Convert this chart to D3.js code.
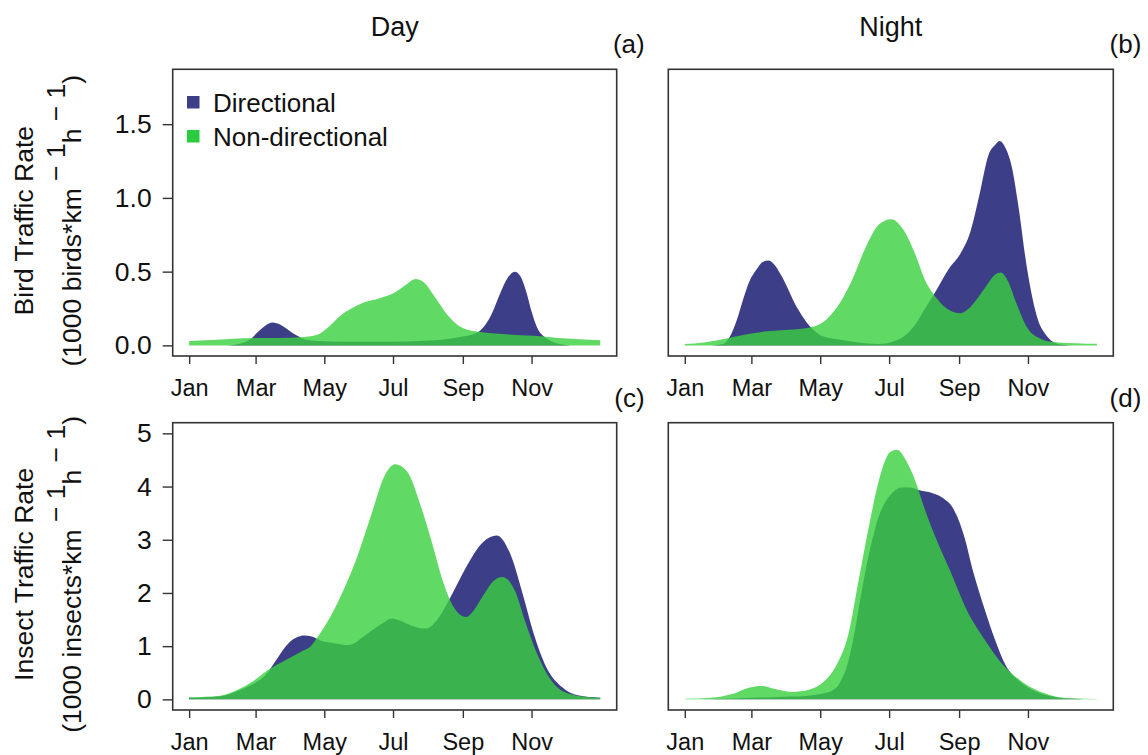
<!DOCTYPE html>
<html>
<head>
<meta charset="utf-8">
<script src="https://cdn.jsdelivr.net/npm/d3@7"></script>
<style>
  body { margin: 0; background: #fff; }
  text { font-family: "Liberation Sans", Arial, sans-serif; fill: #111; }
</style>
</head>
<body>
<div id="chart"></div>
<script>
// month ticks (day of year)
var months = ["Jan", "Mar", "May", "Jul", "Sep", "Nov"];
var monthDays = [1, 60, 121, 182, 244, 305];

var birdTicks = [0, 0.5, 1, 1.5];
var birdTickLabels = ["0.0", "0.5", "1.0", "1.5"];
var insectTicks = [0, 1, 2, 3, 4, 5];
var insectTickLabels = ["0", "1", "2", "3", "4", "5"];

var seriesNames = ["Directional", "Non-directional"];

// (a) birds, day
var birdDayDirDays = [1, 35, 45, 55, 62, 68, 75, 82, 90, 97, 104, 115, 140, 180, 220, 240, 255, 263, 270, 277, 284, 290, 295, 300, 305, 310, 316, 322, 330, 340, 366];
var birdDayDirRate = [0, 0, 0.01, 0.04, 0.09, 0.13, 0.155, 0.14, 0.10, 0.065, 0.04, 0.03, 0.025, 0.025, 0.035, 0.055, 0.08, 0.13, 0.22, 0.35, 0.46, 0.50, 0.47, 0.37, 0.23, 0.12, 0.06, 0.03, 0.01, 0, 0];
var birdDayNonDays = [1, 30, 57, 80, 100, 114, 124, 135, 145, 156, 170, 184, 195, 202, 209, 219, 230, 241, 255, 279, 307, 329, 366];
var birdDayNonRate = [0.03, 0.04, 0.05, 0.05, 0.055, 0.07, 0.12, 0.2, 0.25, 0.29, 0.32, 0.36, 0.42, 0.45, 0.43, 0.33, 0.21, 0.13, 0.095, 0.077, 0.065, 0.05, 0.035];

// (b) birds, night
var birdNightDirDays = [1, 25, 35, 41, 47, 53, 58, 65, 70, 75, 80, 86, 92, 98, 105, 113, 124, 142, 160, 173, 185, 195, 205, 213, 222, 235, 245, 254, 262, 270, 276, 280, 285, 291, 297, 304, 309, 314, 320, 326, 335, 345, 366];
var birdNightDirRate = [0, 0, 0.01, 0.06, 0.17, 0.32, 0.43, 0.52, 0.565, 0.575, 0.55, 0.48, 0.39, 0.29, 0.2, 0.12, 0.06, 0.035, 0.015, 0.01, 0.025, 0.06, 0.14, 0.24, 0.35, 0.52, 0.62, 0.77, 1.02, 1.29, 1.36, 1.386, 1.34, 1.2, 0.92, 0.53, 0.32, 0.17, 0.08, 0.03, 0.005, 0, 0];
var birdNightNonDays = [1, 18, 37, 55, 74, 93, 111, 124, 136, 149, 161, 173, 184, 195, 205, 214, 223, 236, 245, 254, 267, 276, 281, 287, 295, 304, 316, 329, 366];
var birdNightNonRate = [0.01, 0.02, 0.045, 0.074, 0.095, 0.106, 0.12, 0.16, 0.26, 0.44, 0.66, 0.82, 0.856, 0.78, 0.62, 0.44, 0.33, 0.236, 0.218, 0.26, 0.39, 0.48, 0.495, 0.44, 0.28, 0.124, 0.045, 0.022, 0.011];

// (c) insects, day
var insectDayDirDays = [1, 29, 43, 57, 66, 71, 78, 89, 97, 103, 110, 117, 131, 142, 159, 172, 181, 188, 198, 211, 223, 233, 247, 262, 274, 286, 297, 307, 318, 332, 346, 366];
var insectDayDirRate = [0.03, 0.06, 0.15, 0.28, 0.4, 0.51, 0.73, 1.05, 1.17, 1.2, 1.18, 1.11, 1.05, 1.02, 1.23, 1.42, 1.52, 1.48, 1.39, 1.33, 1.55, 1.92, 2.49, 2.96, 3.08, 2.74, 1.99, 1.23, 0.61, 0.23, 0.075, 0.03];
var insectDayNonDays = [1, 29, 43, 57, 71, 86, 100, 110, 114, 121, 131, 140, 149, 163, 174, 184, 195, 205, 216, 226, 233, 240, 247, 254, 262, 271, 279, 284, 290, 300, 311, 325, 339, 352, 366];
var insectDayNonRate = [0.04, 0.07, 0.17, 0.33, 0.55, 0.73, 0.89, 1.02, 1.14, 1.36, 1.74, 2.15, 2.61, 3.49, 4.18, 4.42, 4.27, 3.74, 2.99, 2.24, 1.85, 1.62, 1.55, 1.68, 1.95, 2.22, 2.30, 2.25, 2.05, 1.42, 0.8, 0.29, 0.1, 0.05, 0.03];

// (d) insects, night
var insectNightDirDays = [1, 30, 60, 90, 110, 125, 130, 138, 145, 150, 155, 160, 166, 173, 180, 186, 193, 200, 209, 220, 230, 239, 244, 248, 257, 267, 276, 285, 298, 313, 329, 344, 366];
var insectNightDirRate = [0, 0.005, 0.03, 0.05, 0.07, 0.12, 0.15, 0.3, 0.65, 1.1, 1.7, 2.3, 2.9, 3.45, 3.75, 3.9, 3.98, 3.98, 3.93, 3.88, 3.78, 3.58, 3.35, 3.1, 2.36, 1.67, 1.11, 0.65, 0.33, 0.14, 0.045, 0.013, 0];
var insectNightNonDays = [1, 24, 43, 58, 69, 80, 96, 111, 124, 136, 146, 155, 164, 173, 183, 189, 197, 205, 214, 223, 236, 251, 267, 282, 298, 313, 329, 344, 366];
var insectNightNonRate = [0.01, 0.03, 0.1, 0.22, 0.25, 0.2, 0.14, 0.18, 0.33, 0.67, 1.23, 2.24, 3.24, 4.12, 4.65, 4.69, 4.49, 4.12, 3.55, 3.05, 2.42, 1.67, 1.11, 0.67, 0.36, 0.17, 0.056, 0.02, 0.005];

var navy = "#3c3f87", green = "#3ad03e", greenAlpha = 0.8, legendGreen = "#2bcb3f";

function zip(days, vals) {
  return days.map(function(d, i) { return {day: d, v: vals[i]}; });
}

var W = 1148, H = 755;
var svg = d3.select("#chart").append("svg")
  .attr("width", W).attr("height", H);

var colL = [172.7, 616.7], colR = [668.3, 1113.3];
var rowT = [69.3, 356], rowB = [422.7, 710];

var panels = [
  {xr: colL, yr: rowT, ymax: 1.8, ticks: birdTicks, tl: birdTickLabels, yaxis: true, tag: "(a)",
   dir: zip(birdDayDirDays, birdDayDirRate), non: zip(birdDayNonDays, birdDayNonRate)},
  {xr: colR, yr: rowT, ymax: 1.8, ticks: birdTicks, tl: birdTickLabels, yaxis: false, tag: "(b)",
   dir: zip(birdNightDirDays, birdNightDirRate), non: zip(birdNightNonDays, birdNightNonRate)},
  {xr: colL, yr: rowB, ymax: 5, ticks: insectTicks, tl: insectTickLabels, yaxis: true, tag: "(c)",
   dir: zip(insectDayDirDays, insectDayDirRate), non: zip(insectDayNonDays, insectDayNonRate)},
  {xr: colR, yr: rowB, ymax: 5, ticks: insectTicks, tl: insectTickLabels, yaxis: false, tag: "(d)",
   dir: zip(insectNightDirDays, insectNightDirRate), non: zip(insectNightNonDays, insectNightNonRate)}
];

panels.forEach(function(p) {
  // R style 4% padding around data range
  var x = d3.scaleLinear().domain([1 - 365 * 0.04, 366 + 365 * 0.04]).range(p.xr);
  var y = d3.scaleLinear().domain([-0.04 * p.ymax, 1.04 * p.ymax]).range([p.yr[1], p.yr[0]]);

  var area = d3.area()
    .curve(d3.curveMonotoneX)
    .x(function(d) { return x(d.day); })
    .y0(y(0))
    .y1(function(d) { return y(d.v); });

  svg.append("path").datum(p.dir).attr("d", area).attr("fill", navy);
  svg.append("path").datum(p.non).attr("d", area).attr("fill", green).attr("fill-opacity", greenAlpha);

  svg.append("rect")
    .attr("x", p.xr[0]).attr("y", p.yr[0])
    .attr("width", p.xr[1] - p.xr[0]).attr("height", p.yr[1] - p.yr[0])
    .attr("fill", "none").attr("stroke", "#333").attr("stroke-width", 1.6);

  var xa = svg.append("g")
    .attr("transform", "translate(0," + p.yr[1] + ")")
    .call(d3.axisBottom(x).tickValues(monthDays)
      .tickFormat(function(d, i) { return months[i]; })
      .tickSize(8).tickPadding(15.5));
  xa.select(".domain").remove();
  xa.selectAll("line").attr("stroke", "#333").attr("stroke-width", 1.4);
  xa.selectAll("text").attr("font-size", 23.5).attr("font-family", null).attr("fill", "#111");

  if (p.yaxis) {
    var ya = svg.append("g")
      .attr("transform", "translate(" + p.xr[0] + ",0)")
      .call(d3.axisLeft(y).tickValues(p.ticks)
        .tickFormat(function(d, i) { return p.tl[i]; })
        .tickSize(10).tickPadding(11));
    ya.select(".domain").remove();
    ya.selectAll("line").attr("stroke", "#333").attr("stroke-width", 1.4);
    ya.selectAll("text").attr("font-size", 26.5).attr("font-family", null).attr("fill", "#111");
  }

  svg.append("text")
    .attr("x", p.xr[1] + 28).attr("y", p.yr[0] - 16)
    .attr("text-anchor", "end").attr("font-size", 26)
    .text(p.tag);
});

// column titles
svg.append("text").attr("x", (colL[0] + colL[1]) / 2).attr("y", 36)
  .attr("text-anchor", "middle").attr("font-size", 27).text("Day");
svg.append("text").attr("x", (colR[0] + colR[1]) / 2).attr("y", 36)
  .attr("text-anchor", "middle").attr("font-size", 27).text("Night");

// legend
var legend = svg.append("g").attr("transform", "translate(187,96)");
seriesNames.forEach(function(name, i) {
  legend.append("rect")
    .attr("x", 0).attr("y", i * 34).attr("width", 12.5).attr("height", 12.5)
    .attr("fill", i === 0 ? navy : legendGreen);
  legend.append("text")
    .attr("x", 26).attr("y", i * 34 + 15.5)
    .attr("font-size", 26).text(name);
});

// y axis titles, two lines with superscripts
function yTitle(cy, first, second) {
  svg.append("text")
    .attr("transform", "translate(33," + cy + ") rotate(-90)")
    .attr("text-anchor", "middle").attr("font-size", 26.5)
    .text(first);
  var t = svg.append("text")
    .attr("transform", "translate(81," + cy + ") rotate(-90)")
    .attr("text-anchor", "middle").attr("font-size", 26.5);
  t.append("tspan").text(second);
  t.append("tspan").attr("dy", -16).text(" \u2212 1");
  t.append("tspan").attr("dy", 16).text("h");
  t.append("tspan").attr("dy", -16).text(" \u2212 1");
  t.append("tspan").attr("dy", 16).text(")");
}
yTitle((rowT[0] + rowT[1]) / 2 + 8, "Bird Traffic Rate", "(1000 birds*km");
yTitle((rowB[0] + rowB[1]) / 2 + 8, "Insect Traffic Rate", "(1000 insects*km");
</script>
</body>
</html>
